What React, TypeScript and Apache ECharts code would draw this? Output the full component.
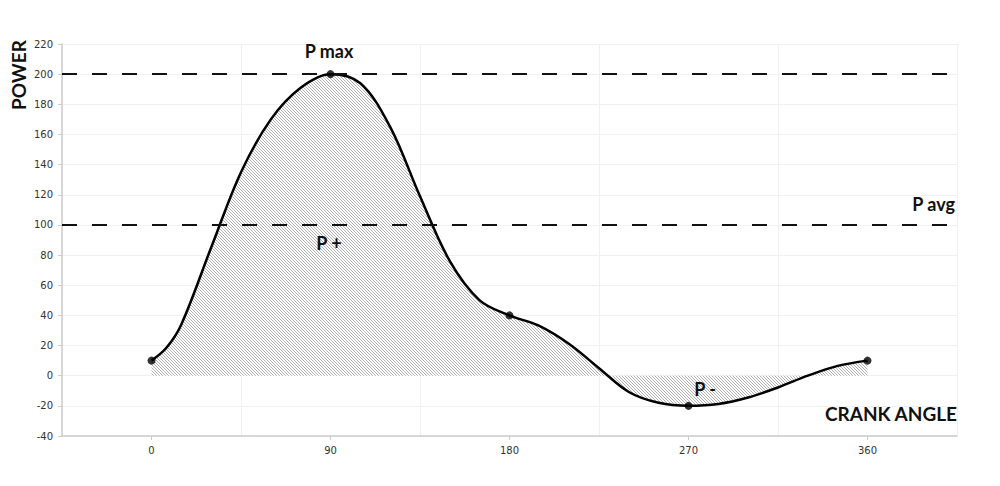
import React, { useEffect, useRef } from 'react';
import * as echarts from 'echarts';

// Axis categories (crank angle labels)
const angleLabels = ['0', '90', '180', '270', '360'];
// Key points (marked with dots)
const keyAngles = [0, 90, 180, 270, 360];
const keyPower = [10, 200, 40, -20, 10];
// Curve (angle, power)
const curveAngles = [
  0, 7.5, 15, 30, 45, 60, 75, 90,
  105, 120, 135, 150, 165, 180,
  195, 210, 225, 240, 255, 270,
  285, 300, 315, 330, 345, 360,
];
const curvePower = [
  10, 18.5, 34, 85, 135, 170, 191, 200,
  194, 165, 119, 76, 50, 40,
  33, 21, 5, -10.8, -18, -20,
  -18.8, -14.5, -7.8, 0, 6.5, 10,
];
const refLines = [200, 100];
const yMin = -40;
const yMax = 220;
const yStep = 20;
const xMin = -45;
const xMax = 405;

function makeHatch() {
  const size = 6;
  const c = document.createElement('canvas');
  c.width = size;
  c.height = size;
  const ctx = c.getContext('2d')!;
  ctx.fillStyle = '#ffffff';
  ctx.fillRect(0, 0, size, size);
  ctx.fillStyle = '#b0b0b0';
  for (let y = 0; y < size; y++) {
    for (let x = 0; x < size; x++) {
      if (((x - y) % 3 + 3) % 3 === 0) ctx.fillRect(x, y, 1, 1);
    }
  }
  return { url: c.toDataURL(), size };
}

const titleFont = 'bold 18px Lato, "Open Sans", sans-serif';
const bigFont = 'bold 19px Lato, "Open Sans", sans-serif';
const tickFont = '"DejaVu Sans", Verdana, sans-serif';

function txt(text: string, x: number, y: number, align: string, font: string, rotation = 0) {
  return {
    type: 'text',
    x,
    y,
    rotation,
    z: 100,
    style: {
      text,
      font,
      fill: '#111',
      align,
      verticalAlign: 'middle',
      textAlign: align,
      textVerticalAlign: 'middle',
    },
  };
}

export default function App() {
  const ref = useRef<HTMLDivElement>(null);
  useEffect(() => {
    if (!ref.current) return;
    const chart = echarts.init(ref.current, null, { renderer: 'svg' });
    const hatch = makeHatch();
    const curveData = curveAngles.map((a, i) => [a, curvePower[i]]);
    const keyData = keyAngles.map((a, i) => [a, keyPower[i]]);
    const option: any = {
      animation: false,
      backgroundColor: '#ffffff',
      grid: { left: 62, right: 43, top: 44, bottom: 50, containLabel: false },
      xAxis: [
        {
          type: 'category',
          data: angleLabels,
          boundaryGap: true,
          axisLine: { show: true, onZero: false, lineStyle: { color: '#cccccc', width: 1.5 } },
          axisTick: { show: true, alignWithLabel: true, length: 4, lineStyle: { color: '#cccccc' } },
          axisLabel: { color: '#333', fontFamily: tickFont, fontSize: 10, margin: 9 },
          splitLine: { show: true, lineStyle: { color: '#f0f0f0', width: 1 } },
        },
        {
          type: 'value',
          min: xMin,
          max: xMax,
          show: false,
          axisLine: { onZero: false },
          splitLine: { show: false },
        },
      ],
      yAxis: {
        type: 'value',
        min: yMin,
        max: yMax,
        interval: yStep,
        axisLine: { show: true, onZero: false, lineStyle: { color: '#cccccc', width: 1.5 } },
        axisTick: { show: true, length: 4, lineStyle: { color: '#cccccc' } },
        axisLabel: { color: '#333', fontFamily: tickFont, fontSize: 10, margin: 9 },
        splitLine: { show: true, lineStyle: { color: '#f0f0f0', width: 1 } },
      },
      series: [
        {
          type: 'line',
          xAxisIndex: 1,
          data: curveData,
          smooth: 0.35,
          showSymbol: false,
          symbol: 'none',
          lineStyle: { color: '#000', width: 2.5 },
          areaStyle: {
            color: { image: hatch.url, repeat: 'repeat', imageWidth: hatch.size, imageHeight: hatch.size },
            opacity: 1,
          },
          markLine: {
            silent: true,
            symbol: 'none',
            label: { show: false },
            lineStyle: { color: '#111', width: 2, type: [15, 15] },
            data: refLines.map((v) => ({ yAxis: v })),
          },
          z: 3,
        },
        {
          type: 'scatter',
          xAxisIndex: 1,
          data: keyData,
          symbol: 'circle',
          symbolSize: 8,
          itemStyle: { color: '#000' },
          z: 5,
        },
      ],
      graphic: [
        txt('POWER', 18, 75, 'center', bigFont, Math.PI / 2),
        txt('P max', 329, 51, 'center', titleFont),
        txt('P avg', 955, 204, 'right', titleFont),
        txt('P +', 329, 243, 'center', titleFont),
        txt('P -', 705, 389, 'center', titleFont),
        txt('CRANK ANGLE', 957, 413, 'right', bigFont),
      ],
    };
    chart.setOption(option);
    return () => chart.dispose();
  }, []);
  return (
    <div
      ref={ref}
      style={{ position: 'fixed', left: 0, top: 0, width: 1000, height: 486, background: '#fff' }}
    />
  );
}
